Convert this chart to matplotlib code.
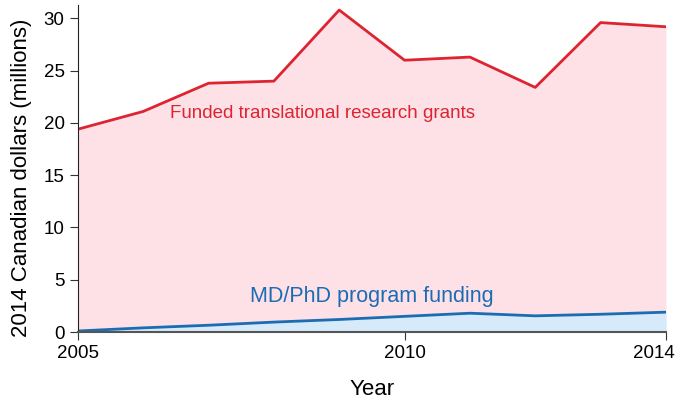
import matplotlib
matplotlib.use("Agg")
import matplotlib.pyplot as plt
import matplotlib.transforms as mtransforms

# data
years = [2005, 2006, 2007, 2008, 2009, 2010, 2011, 2012, 2013, 2014]
grants = [19.4, 21.1, 23.8, 24.0, 30.8, 26.0, 26.3, 23.4, 29.6, 29.2]
mdphd = [0.1, 0.4, 0.65, 0.95, 1.2, 1.5, 1.8, 1.55, 1.7, 1.9]

red = "#DE2430"
blue = "#1C6CB3"

plt.rcParams['font.family'] = ['Liberation Sans', 'DejaVu Sans']

fig = plt.figure(figsize=(6.83, 4.01), dpi=100)
ax = fig.add_axes([0.114, 0.172, 0.861, 0.816])

# filled areas
ax.fill_between(years, 0, grants, color="#FDE1E7", lw=0)
ax.fill_between(years, 0, mdphd, color="#D6EAFA", lw=0)
ax.plot(years, grants, color=red, lw=2)
ax.plot(years, mdphd, color=blue, lw=2)

# labels on the areas
ax.text(2008.74, 20.9, "Funded translational research grants", color=red,
        fontsize=13.5, ha="center", va="center")
ax.text(2009.5, 3.4, "MD/PhD program funding", color=blue,
        fontsize=15.5, ha="center", va="center")

ax.set_xlim(2005, 2014)
ax.set_ylim(0, 31.3)
ax.set_xticks([2005, 2010, 2014])
ax.set_yticks([0, 5, 10, 15, 20, 25, 30])
ax.tick_params(labelsize=13.5, length=6, color="#333333")
ax.set_xlabel("Year", fontsize=16, labelpad=12)
ax.set_ylabel("2014 Canadian dollars (millions)", fontsize=16)
ax.yaxis.set_label_coords(-0.078, 0.472)

# last year label pulled in so it stays inside the figure
last = ax.get_xticklabels()[-1]
last.set_transform(last.get_transform() +
                   mtransforms.ScaledTranslation(-0.12, 0, fig.dpi_scale_trans))

ax.spines['top'].set_visible(False)
ax.spines['right'].set_visible(False)
ax.spines['left'].set_color("#222222")
ax.spines['bottom'].set_color("#555555")
ax.spines['bottom'].set_linewidth(1.5)

fig.savefig("out.png", dpi=100)
